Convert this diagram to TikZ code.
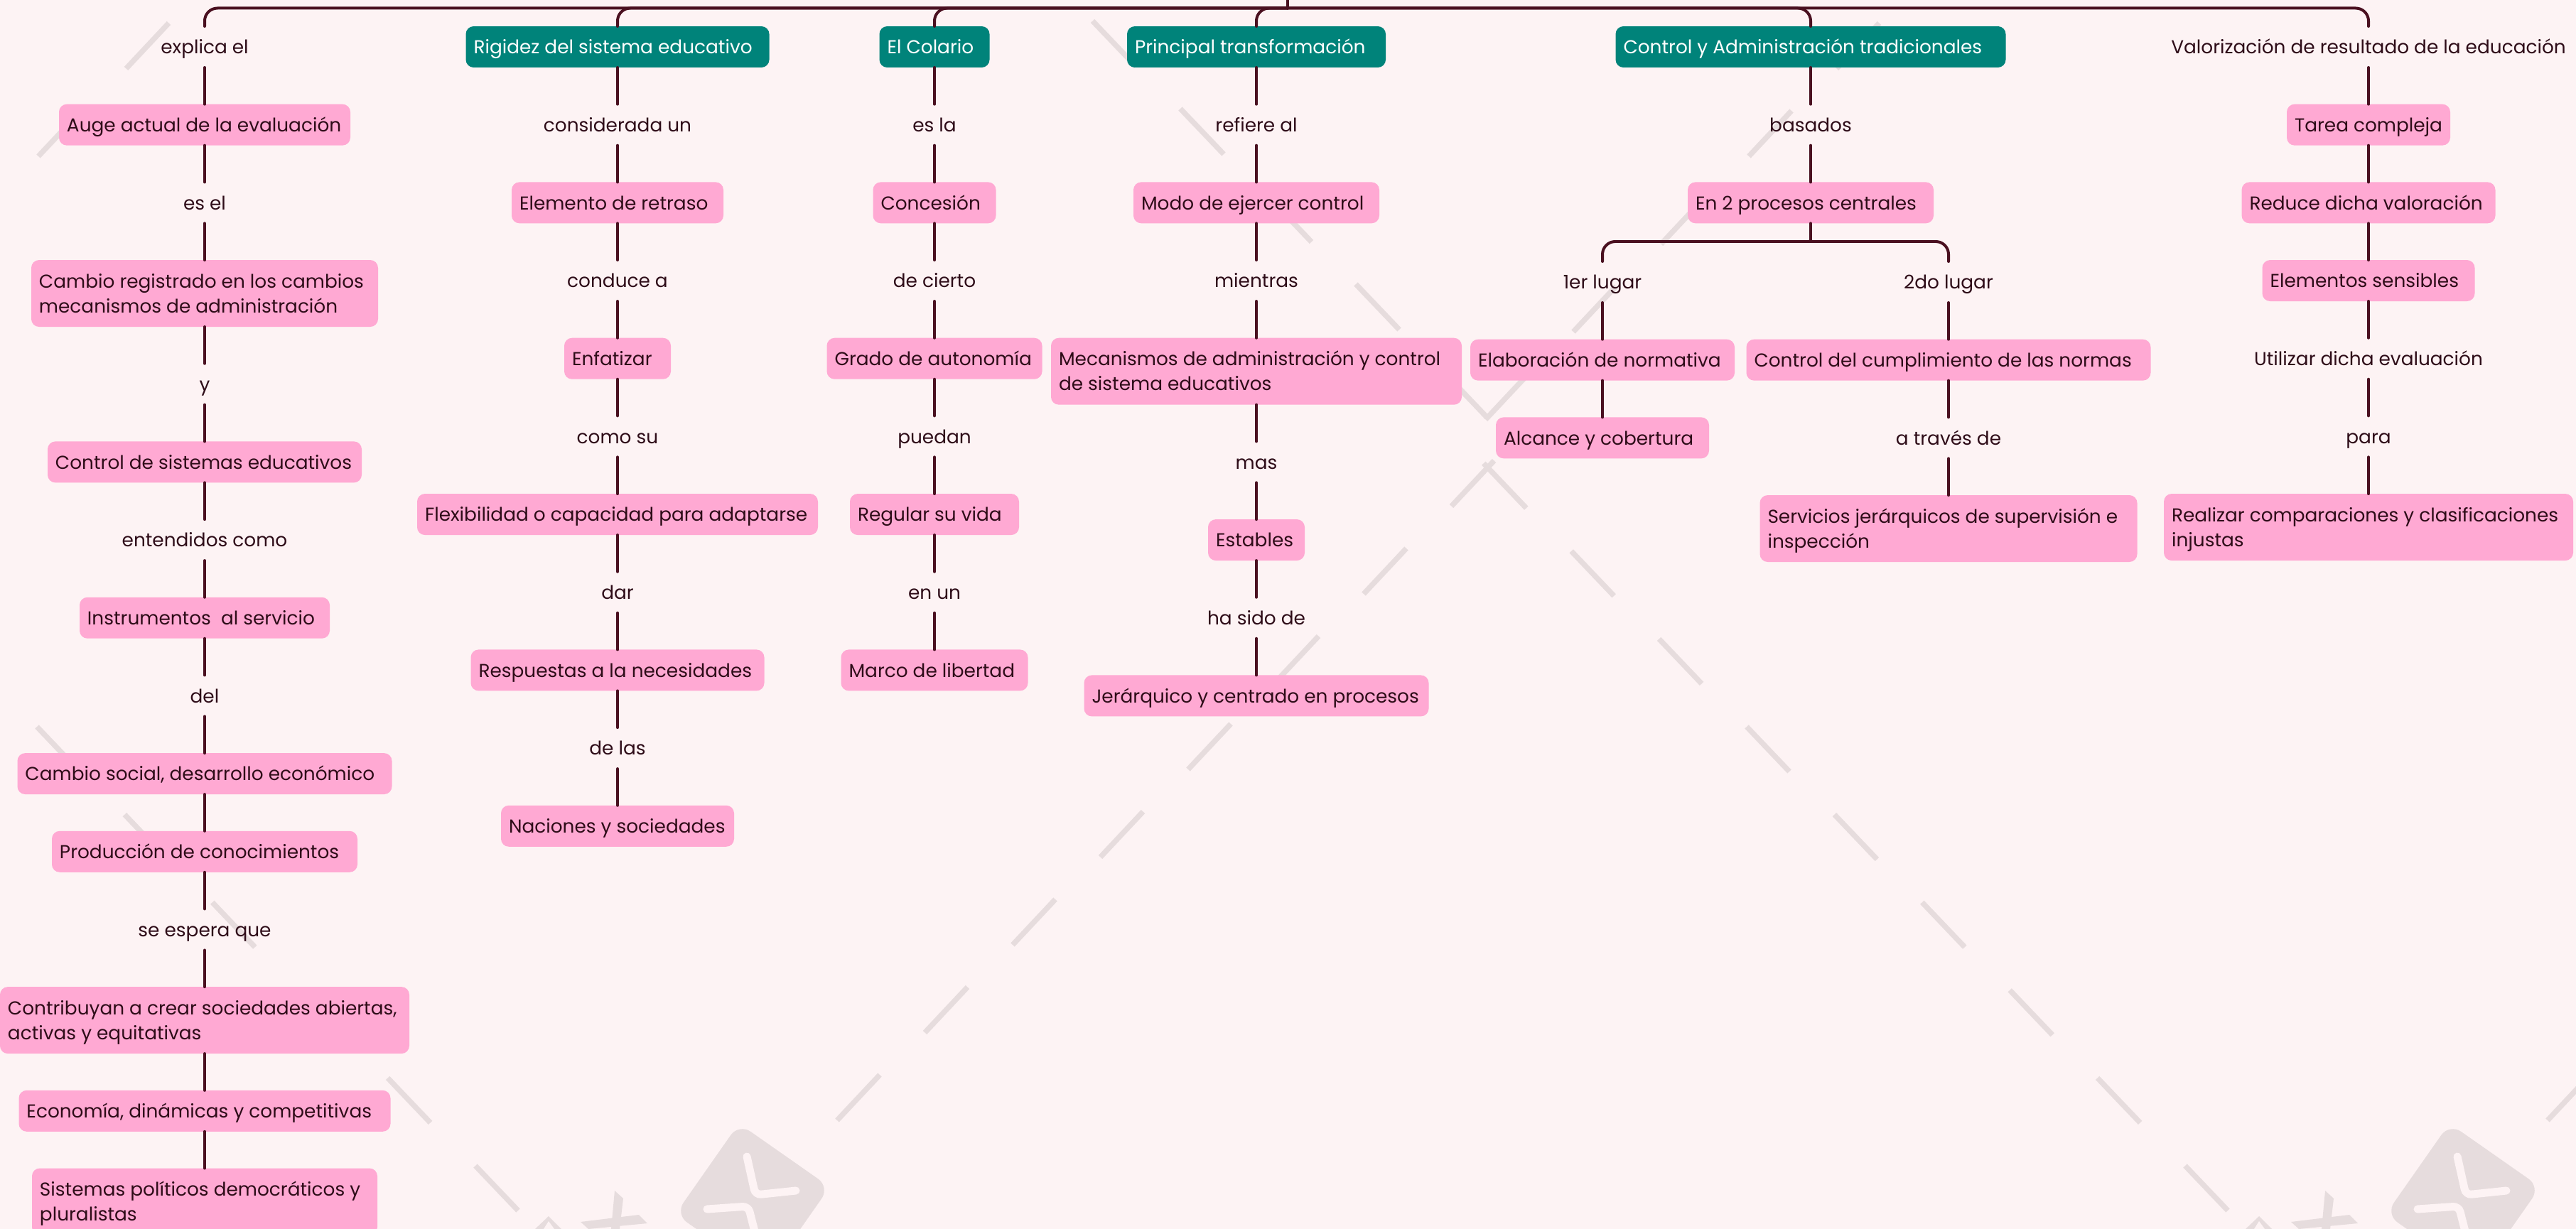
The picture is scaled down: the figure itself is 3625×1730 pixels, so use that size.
\documentclass[tikz,border=0pt]{standalone}
\usepackage{fontspec}
\setmainfont{Poppins}
\usetikzlibrary{positioning}
\definecolor{paper}{HTML}{FDF3F4}
\definecolor{wmgrey}{HTML}{E6DCDD}
\definecolor{rose}{HTML}{FFA9D3}
\definecolor{deepteal}{HTML}{00837A}
\definecolor{wine}{HTML}{4A1020}
\definecolor{ink}{HTML}{2E0C18}
\tikzset{boxw/.style={text width=#1*0.02cm-0.44cm}}
\begin{document}
\begin{tikzpicture}[x=0.02cm,y=-0.02cm,node distance=1.034cm]
	\tikzstyle{leaf}=[rectangle, rounded corners=.22cm, fill=rose, text=ink, minimum height=1.16cm, inner xsep=.22cm, inner ysep=0pt, outer sep=0pt, align=flush left, font=\fontsize{15}{20}\selectfont, text height=13.5pt, text depth=2.5pt]
	\tikzstyle{topic}=[leaf, fill=deepteal, text=white]
	\tikzstyle{verb}=[rectangle, text=ink, minimum height=1.16cm, inner sep=0pt, outer sep=0pt, font=\fontsize{15}{20}\selectfont, text height=13.5pt, text depth=2.5pt]
	\tikzstyle{twoline}=[minimum height=1.88cm, text depth=22.5pt]
	\tikzstyle{connect}=[wine, line width=.08cm, line cap=round]
	\tikzstyle{branch}=[connect, rounded corners=.36cm]
	\tikzstyle{dashmark}=[wmgrey, line width=.15cm]
	\path[use as bounding box, fill=paper] (0,0) rectangle (3625,1730);
	\foreach \k in {0,...,5} \draw[dashmark] ({669-123.4*\k},{1641-123.6*\k}) -- ++(60,63);
	\foreach \k in {0,...,8} \draw[dashmark] ({3075-123.4*\k},{1641-123.6*\k}) -- ++(60,63);
	\foreach \dx in {0,2407} {
		\foreach \k in {0,...,7} \draw[dashmark] ({1238+\dx+123.5*\k},{1513-123.5*\k}) -- ++(-60,64);
		\begin{scope}[shift={(\dx,0)}]
			\fill[wmgrey] (753,1730) -- (772,1712) -- (790,1730) -- cycle;
			\fill[paper] (765,1730) -- (772,1719) -- (780,1730) -- cycle;
			\fill[wmgrey] (865,1676) -- (877,1687) -- (872,1730) -- (860,1730) -- cycle;
			\fill[wmgrey] (817,1720) -- (899,1710) -- (911,1722) -- (828,1730) -- cycle;
			\begin{scope}[shift={(1059,1690)},rotate=-35]
				\fill[wmgrey, rounded corners=.4cm] (-78,-78) rectangle (78,78);
			\end{scope}
			\draw[paper, line width=.22cm, line cap=round, rounded corners=.16cm] (1051,1628) -- (1063,1682) -- (1120,1676);
			\draw[paper, line width=.22cm, line cap=round, rounded corners=.16cm] (995,1702) -- (1053,1698) -- (1065,1745);
		\end{scope}
	}
	\foreach \dx in {-2407,0} \foreach \k in {0,...,4} \draw[dashmark] ({2644.5+\dx-123.5*\k},{32.5+123.5*\k}) -- ++(-60,64);
	\foreach \k in {0,...,4} \draw[dashmark] ({1537.5+123.5*\k},{29.5+123.5*\k}) -- ++(61,64);
	\coordinate (root) at (1812,0);
	\coordinate (bus) at (1812,11.5);
	\node[verb] (explica) at (288,66) {explica el};
	\node[leaf, boxw=410] (auge) [below=of explica] {Auge actual de la evaluación};
	\node[verb] (esel) [below=of auge] {es el};
	\node[leaf, twoline, boxw=488] (registrado) [below=of esel] {Cambio registrado en los cambios\\mecanismos de administración};
	\node[verb] (y) [below=of registrado] {y};
	\node[leaf, boxw=442] (sistemas) [below=of y] {Control de sistemas educativos};
	\node[verb] (entendidos) [below=of sistemas] {entendidos como};
	\node[leaf, boxw=352] (instrumentos) [below=of entendidos] {Instrumentos~~al servicio};
	\node[verb] (del) [below=of instrumentos] {del};
	\node[leaf, boxw=527] (social) [below=of del] {Cambio social, desarrollo económico};
	\node[leaf, boxw=430] (produccion) [below=of social] {Producción de conocimientos};
	\node[verb] (espera) [below=of produccion] {se espera que};
	\node[leaf, twoline, boxw=576] (contribuyan) [below=of espera] {Contribuyan a crear sociedades abiertas,\\activas y equitativas};
	\node[leaf, boxw=523] (economia) [below=of contribuyan] {Economía, dinámicas y competitivas};
	\node[leaf, twoline, boxw=486] (politicos) [below=of economia] {Sistemas políticos democráticos y\\pluralistas};
	\node[topic, boxw=427] (rigidez) at (869,66) {Rigidez del sistema educativo};
	\node[verb] (considerada) [below=of rigidez] {considerada un};
	\node[leaf, boxw=298] (retraso) [below=of considerada] {Elemento de retraso};
	\node[verb] (conduce) [below=of retraso] {conduce a};
	\node[leaf, boxw=150] (enfatizar) [below=of conduce] {Enfatizar};
	\node[verb] (comosu) [below=of enfatizar] {como su};
	\node[leaf, boxw=564] (flexibilidad) [below=of comosu] {Flexibilidad o capacidad para adaptarse};
	\node[verb] (dar) [below=of flexibilidad] {dar};
	\node[leaf, boxw=413] (respuestas) [below=of dar] {Respuestas a la necesidades};
	\node[verb] (delas) [below=of respuestas] {de las};
	\node[leaf, boxw=328] (naciones) [below=of delas] {Naciones y sociedades};
	\node[topic, boxw=155] (colario) at (1315,66) {El Colario};
	\node[verb] (esla) [below=of colario] {es la};
	\node[leaf, boxw=173] (concesion) [below=of esla] {Concesión};
	\node[verb] (decierto) [below=of concesion] {de cierto};
	\node[leaf, boxw=303] (grado) [below=of decierto] {Grado de autonomía};
	\node[verb] (puedan) [below=of grado] {puedan};
	\node[leaf, boxw=238] (regular) [below=of puedan] {Regular su vida};
	\node[verb] (enun) [below=of regular] {en un};
	\node[leaf, boxw=263] (marco) [below=of enun] {Marco de libertad};
	\node[topic, boxw=364] (principal) at (1768,66) {Principal transformación};
	\node[verb] (refiere) [below=of principal] {refiere al};
	\node[leaf, boxw=346] (modo) [below=of refiere] {Modo de ejercer control};
	\node[verb] (mientras) [below=of modo] {mientras};
	\node[leaf, twoline, boxw=578] (mecanismos) [below=of mientras] {Mecanismos de administración y control\\de sistema educativos};
	\node[verb] (mas) [below=of mecanismos] {mas};
	\node[leaf, boxw=136] (estables) [below=of mas] {Estables};
	\node[verb] (hasido) [below=of estables] {ha sido de};
	\node[leaf, boxw=485] (jerarquico) [below=of hasido] {Jerárquico y centrado en procesos};
	\node[topic, boxw=549] (control) at (2548,66) {Control y Administración tradicionales};
	\node[verb] (basados) [below=of control] {basados};
	\node[leaf, boxw=346] (procesos) [below=of basados] {En 2 procesos centrales};
	\coordinate (fork) at (2548,340);
	\node[verb] (primero) at (2255,397) {1er lugar};
	\node[verb] (segundo) at (2742,397) {2do lugar};
	\node[leaf, boxw=372] (normativa) [below=of primero] {Elaboración de normativa};
	\node[leaf, boxw=300] (alcance) [below=of normativa] {Alcance y cobertura};
	\node[leaf, boxw=569] (cumplimiento) [below=of segundo] {Control del cumplimiento de las normas};
	\node[verb] (traves) [below=of cumplimiento] {a través de};
	\node[leaf, twoline, boxw=531] (servicios) [below=of traves] {Servicios jerárquicos de supervisión e\\inspección};
	\node[verb] (valorizacion) at (3333,66) {Valorización de resultado de la educación};
	\node[leaf, boxw=230] (tarea) [below=of valorizacion] {Tarea compleja};
	\node[leaf, boxw=357] (reduce) [below=of tarea] {Reduce dicha valoración};
	\node[leaf, boxw=299] (sensibles) [below=of reduce] {Elementos sensibles};
	\node[verb] (utilizar) [below=of sensibles] {Utilizar dicha evaluación};
	\node[verb] (para) [below=of utilizar] {para};
	\node[leaf, twoline, boxw=576] (realizar) [below=of para] {Realizar comparaciones y clasificaciones\\injustas};
	\draw[connect] (root) -- (bus);
	\draw[branch] (bus) -| (explica);
	\draw[branch] (bus) -| (rigidez);
	\draw[branch] (bus) -| (colario);
	\draw[branch] (bus) -| (principal);
	\draw[branch] (bus) -| (control);
	\draw[branch] (bus) -| (valorizacion);
	\draw[connect] (procesos) -- (fork);
	\draw[branch] (fork) -| (primero);
	\draw[branch] (fork) -| (segundo);
	\path (explica) edge [connect] (auge)
	(auge) edge [connect] (esel)
	(esel) edge [connect] (registrado)
	(registrado) edge [connect] (y)
	(y) edge [connect] (sistemas)
	(sistemas) edge [connect] (entendidos)
	(entendidos) edge [connect] (instrumentos)
	(instrumentos) edge [connect] (del)
	(del) edge [connect] (social)
	(social) edge [connect] (produccion)
	(produccion) edge [connect] (espera)
	(espera) edge [connect] (contribuyan)
	(contribuyan) edge [connect] (economia)
	(economia) edge [connect] (politicos)
	(rigidez) edge [connect] (considerada)
	(considerada) edge [connect] (retraso)
	(retraso) edge [connect] (conduce)
	(conduce) edge [connect] (enfatizar)
	(enfatizar) edge [connect] (comosu)
	(comosu) edge [connect] (flexibilidad)
	(flexibilidad) edge [connect] (dar)
	(dar) edge [connect] (respuestas)
	(respuestas) edge [connect] (delas)
	(delas) edge [connect] (naciones)
	(colario) edge [connect] (esla)
	(esla) edge [connect] (concesion)
	(concesion) edge [connect] (decierto)
	(decierto) edge [connect] (grado)
	(grado) edge [connect] (puedan)
	(puedan) edge [connect] (regular)
	(regular) edge [connect] (enun)
	(enun) edge [connect] (marco)
	(principal) edge [connect] (refiere)
	(refiere) edge [connect] (modo)
	(modo) edge [connect] (mientras)
	(mientras) edge [connect] (mecanismos)
	(mecanismos) edge [connect] (mas)
	(mas) edge [connect] (estables)
	(estables) edge [connect] (hasido)
	(hasido) edge [connect] (jerarquico)
	(control) edge [connect] (basados)
	(basados) edge [connect] (procesos)
	(primero) edge [connect] (normativa)
	(normativa) edge [connect] (alcance)
	(segundo) edge [connect] (cumplimiento)
	(cumplimiento) edge [connect] (traves)
	(traves) edge [connect] (servicios)
	(valorizacion) edge [connect] (tarea)
	(tarea) edge [connect] (reduce)
	(reduce) edge [connect] (sensibles)
	(sensibles) edge [connect] (utilizar)
	(utilizar) edge [connect] (para)
	(para) edge [connect] (realizar);
\end{tikzpicture}
\end{document}
